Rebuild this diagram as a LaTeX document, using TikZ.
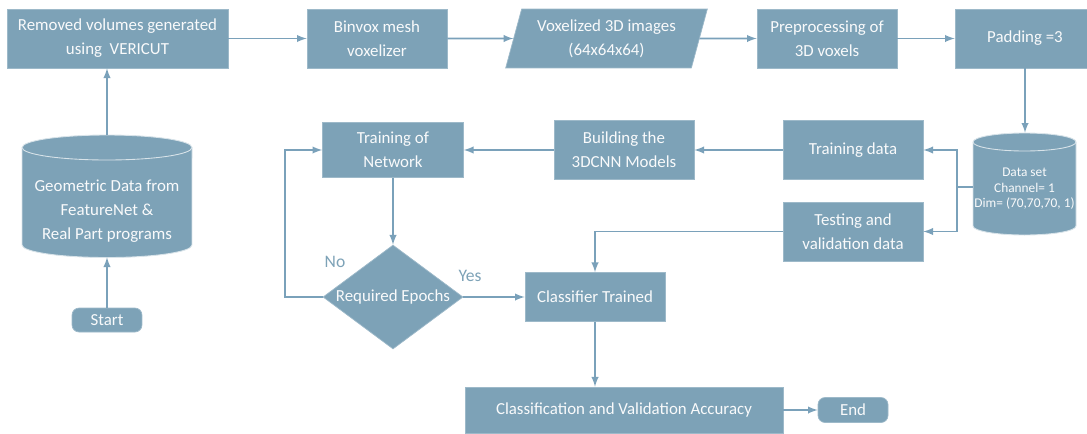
\documentclass[tikz,border=0pt]{standalone}
\usepackage{fontspec}
\setmainfont{Carlito}
\usetikzlibrary{shapes.geometric}
\definecolor{boxblue}{RGB}{125,162,183}
\definecolor{linkblue}{RGB}{122,161,186}

\begin{document}
\begin{tikzpicture}[x=0.02cm,y=-0.02cm,
  box/.style={rectangle,fill=boxblue,draw=boxblue!75!white,line width=0.4pt,
    text=white!95!boxblue,align=center,inner sep=0pt,
    font=\fontsize{9.6}{13.6}\selectfont},
  term/.style={box,rounded corners=4pt},
  dbtext/.style={text=white!95!boxblue,align=center,inner sep=0pt},
  db/.style={fill=boxblue,draw=white!70!boxblue,line width=0.5pt},
  conn/.style={linkblue,line width=0.9pt,-latex},
  line/.style={linkblue,line width=0.9pt}]
  \path[clip] (0,0) rectangle (1087,433);

  % top row
  \node[box,minimum width=4.42cm,minimum height=1.18cm] (rem) at (117.5,38.5)
    {Removed volumes generated\\using\ \ VERICUT};
  \node[box,minimum width=2.8cm,minimum height=1.18cm] (bin) at (377,38.5)
    {Binvox mesh\\voxelizer};
  \node[box,trapezium,trapezium left angle=71,trapezium right angle=109,
    trapezium stretches=true,minimum width=4.06cm,minimum height=1.18cm] (vox) at (606.5,38.5)
    {Voxelized 3D images\\(64x64x64)};
  \node[box,minimum width=2.8cm,minimum height=1.18cm] (pre) at (827,38.5)
    {Preprocessing of\\3D voxels};
  \node[box,minimum width=2.8cm,minimum height=1.18cm] (pad) at (1025,38.5)
    {Padding =3};

  % input data (cylinder)
  \path[db] (22,147.5) -- (22,245)
    arc[start angle=180,end angle=360,x radius=1.7cm,y radius=0.25cm] -- (192,147.5)
    arc[start angle=0,end angle=180,x radius=1.7cm,y radius=0.25cm] -- cycle;
  \draw[white!70!boxblue,line width=0.5pt] (22,147.5)
    arc[start angle=180,end angle=360,x radius=1.7cm,y radius=0.25cm];
  \node[minimum width=3.4cm,minimum height=2.44cm] (geo) at (107,196) {};
  \node[dbtext,font=\fontsize{9.6}{13.6}\selectfont] (geotxt) at (107,211)
    {Geometric Data from\\FeatureNet \&\\Real Part programs};
  \node[term,minimum width=1.4cm,minimum height=0.48cm] (start) at (107,320) {Start};

  % data set (cylinder)
  \path[db] (973,142) -- (973,226)
    arc[start angle=180,end angle=360,x radius=1.03cm,y radius=0.18cm] -- (1076,142)
    arc[start angle=0,end angle=180,x radius=1.03cm,y radius=0.18cm] -- cycle;
  \draw[white!70!boxblue,line width=0.5pt] (973,142)
    arc[start angle=180,end angle=360,x radius=1.03cm,y radius=0.18cm];
  \node[minimum width=2.06cm,minimum height=2.04cm] (dset) at (1024.5,184) {};
  \node[dbtext,font=\fontsize{7.6}{8.8}\selectfont] (dsettxt) at (1024.5,189)
    {Data set\\Channel= 1\\Dim= (70,70,70, 1)};
  \coordinate (split) at (957,187);

  % middle row
  \node[box,minimum width=2.8cm,minimum height=1.18cm] (trd) at (853,150) {Training data};
  \node[box,minimum width=2.8cm,minimum height=1.18cm] (tst) at (853,231.5)
    {Testing and\\validation data};
  \node[box,minimum width=2.8cm,minimum height=1.18cm] (bld) at (624,150)
    {Building the\\3DCNN Models};
  \node[box,minimum width=2.82cm,minimum height=1.1cm] (trn) at (393,150)
    {Training of\\Network};

  % decision
  \node[box,diamond,minimum width=2.8cm,minimum height=2.08cm] (epo) at (393,297)
    {\makebox[0pt]{Required Epochs}};
  \node[box,minimum width=2.8cm,minimum height=0.98cm] (clf) at (595,297) {Classifier Trained};
  \coordinate (loop) at (285,297);
  \node[text=boxblue,font=\fontsize{10}{12}\selectfont] (nolbl) at (335,262) {No};
  \node[text=boxblue,font=\fontsize{10}{12}\selectfont] (yeslbl) at (470,276) {Yes};

  % bottom row
  \node[box,minimum width=6.36cm,minimum height=0.92cm] (acc) at (624,410)
    {Classification and Validation Accuracy};
  \node[term,minimum width=1.4cm,minimum height=0.5cm] (fin) at (853,410) {End};

  \draw[conn] (rem) -- (bin);
  \draw[conn] (bin) -- (vox);
  \draw[conn] (vox) -- (pre);
  \draw[conn] (pre) -- (pad);
  \draw[conn] (pad) -- (pad |- dset.north);
  \draw[conn] (start) -- (geo);
  \draw[conn] (geo) -- (geo |- rem.south);
  \draw[line] (dset.west |- split) -- (split);
  \draw[conn] (split) |- (trd);
  \draw[conn] (split) |- (tst);
  \draw[conn] (trd) -- (bld);
  \draw[conn] (bld) -- (trn);
  \draw[conn] (trn) -- (epo);
  \draw[conn] (epo.west) -- (loop) |- (trn);
  \draw[conn] (epo) -- (clf);
  \draw[conn] (tst) -| (clf);
  \draw[conn] (clf) -- (clf |- acc.north);
  \draw[conn] (acc) -- (fin);
\end{tikzpicture}
\end{document}
